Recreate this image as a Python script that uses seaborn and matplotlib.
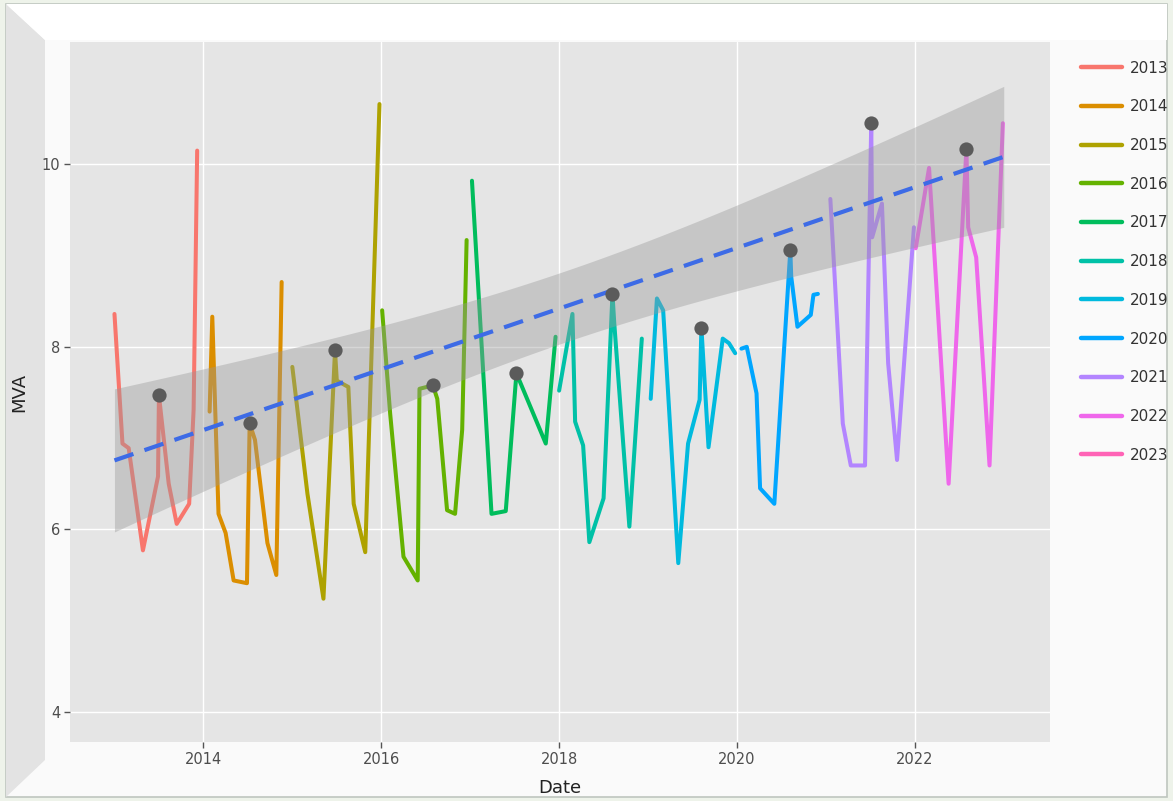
import numpy as np
import pandas as pd
import matplotlib
matplotlib.use("Agg")
import matplotlib.pyplot as plt
from matplotlib.patches import Polygon, Rectangle
import seaborn as sns

# monthly MVA readings (decimal years), grouped by year
dates = [
    2013.00, 2013.09, 2013.16, 2013.32, 2013.49, 2013.50, 2013.61, 2013.70, 2013.84, 2013.89, 2013.93,
    2014.07, 2014.10, 2014.17, 2014.25, 2014.34, 2014.49, 2014.52, 2014.58, 2014.72, 2014.82, 2014.88,
    2015.00, 2015.17, 2015.35, 2015.48, 2015.50, 2015.63, 2015.69, 2015.82, 2015.98,
    2016.01, 2016.10, 2016.25, 2016.41, 2016.43, 2016.51, 2016.58, 2016.63, 2016.74, 2016.83, 2016.91, 2016.96,
    2017.02, 2017.24, 2017.40, 2017.52, 2017.85, 2017.96,
    2018.00, 2018.15, 2018.18, 2018.27, 2018.34, 2018.50, 2018.60, 2018.62, 2018.79, 2018.93,
    2019.03, 2019.10, 2019.17, 2019.34, 2019.45, 2019.58, 2019.60, 2019.68, 2019.84, 2019.91, 2019.98,
    2020.05, 2020.11, 2020.22, 2020.26, 2020.42, 2020.60, 2020.61, 2020.68, 2020.83, 2020.86, 2020.91,
    2021.05, 2021.19, 2021.28, 2021.44, 2021.51, 2021.52, 2021.63, 2021.70, 2021.80, 2021.99,
    2022.01, 2022.16, 2022.38, 2022.58, 2022.60, 2022.69, 2022.84, 2022.99,
    2023.00,
]
mva = [
    8.36, 6.94, 6.89, 5.77, 6.58, 7.47, 6.50, 6.06, 6.28, 7.31, 10.15,
    7.29, 8.33, 6.17, 5.96, 5.44, 5.41, 7.16, 6.98, 5.85, 5.50, 8.71,
    7.78, 6.39, 5.24, 7.96, 7.63, 7.56, 6.28, 5.75, 10.66,
    8.40, 7.27, 5.70, 5.44, 7.54, 7.56, 7.58, 7.43, 6.21, 6.17, 7.09, 9.17,
    9.82, 6.17, 6.20, 7.71, 6.94, 8.11,
    7.52, 8.36, 7.18, 6.92, 5.86, 6.34, 8.58, 8.26, 6.03, 8.09,
    7.43, 8.53, 8.40, 5.63, 6.94, 7.42, 8.21, 6.90, 8.09, 8.04, 7.93,
    7.98, 8.00, 7.49, 6.45, 6.28, 9.06, 8.77, 8.22, 8.35, 8.57, 8.58,
    9.62, 7.16, 6.70, 6.70, 10.45, 9.20, 9.57, 7.82, 6.76, 9.31,
    9.08, 9.96, 6.50, 10.17, 9.31, 8.98, 6.70, 10.45,
    10.45,
]

# highlighted mid-year values, used for the trend
point_dates = [2013.50, 2014.52, 2015.48, 2016.58, 2017.52, 2018.60, 2019.60, 2020.60, 2021.51, 2022.58]
point_mva = [7.47, 7.16, 7.96, 7.58, 7.71, 8.58, 8.21, 9.06, 10.45, 10.17]

years = [str(y) for y in range(2013, 2024)]
colors = ["#F8766D", "#DB8E00", "#AEA200", "#64B200", "#00BD5C", "#00C1A7",
          "#00BADE", "#00A6FF", "#B385FF", "#EF67EB", "#FF63B6"]

W, H = 1173, 801

sns.set_theme(style="darkgrid", rc={
    "axes.facecolor": "#E5E5E5",
    "grid.color": "white",
    "grid.linewidth": 1.0,
    "xtick.bottom": True,
    "ytick.left": True,
})

df = pd.DataFrame({"Date": dates, "MVA": mva})
df["Year"] = [str(int(np.floor(d + 1e-6))) for d in dates]

fig = plt.figure(figsize=(W / 100, H / 100), dpi=100)
fig.patch.set_facecolor("#EEF3EA")


def fx(x):
    return x / W


def fy(y):
    return 1 - y / H


# screenshot frame with a bevel on the left
frame = [
    Rectangle((fx(6), fy(797)), fx(1167 - 6), 793 / H, facecolor="#FAFAFA",
              edgecolor="#BFC6BF", lw=1.2),
    Polygon([(fx(6), fy(4)), (fx(45), fy(40)), (fx(45), fy(760)), (fx(6), fy(797))],
            closed=True, facecolor="#E3E3E3", edgecolor="none"),
    Polygon([(fx(6), fy(4)), (fx(1167), fy(4)), (fx(1167), fy(40)), (fx(45), fy(40))],
            closed=True, facecolor="white", edgecolor="none"),
]
for p in frame:
    p.set_transform(fig.transFigure)
    p.set_zorder(-10)
    fig.patches.append(p)

ax = fig.add_axes([fx(70), fy(742), fx(1050 - 70), (742 - 42) / H])
ax.set_zorder(1)

sns.lineplot(data=df, x="Date", y="MVA", hue="Year", hue_order=years,
             palette=dict(zip(years, colors)), estimator=None, sort=False,
             lw=2.9, ax=ax, zorder=2)
handles, labels = ax.get_legend_handles_labels()
ax.get_legend().remove()

# linear trend with 95% confidence band, fitted on the highlighted points
px = np.array(point_dates)
py = np.array(point_mva)
slope, intercept = np.polyfit(px, py, 1)
resid = py - (slope * px + intercept)
s = np.sqrt(np.sum(resid ** 2) / (len(px) - 2))
grid = np.linspace(min(dates), max(dates), 200)
fit = slope * grid + intercept
se = s * np.sqrt(1 / len(px) + (grid - px.mean()) ** 2 / np.sum((px - px.mean()) ** 2))
t_crit = 2.306  # t(0.975, df=8)
ax.fill_between(grid, fit - t_crit * se, fit + t_crit * se, color="#999999", alpha=0.4,
                lw=0, zorder=3)
ax.plot(grid, fit, color="#3D6BE6", lw=3, dashes=(4.8, 2.8), zorder=4)

sns.scatterplot(x=point_dates, y=point_mva, color="#5B5B5B", s=105, linewidth=0,
                zorder=5, ax=ax, legend=False)

ax.set_xlim(2012.5, 2023.52)
ax.set_ylim(3.67, 11.34)
ax.set_xticks([2014, 2016, 2018, 2020, 2022])
ax.set_xticklabels(["2014", "2016", "2018", "2020", "2022"])
ax.set_yticks([4, 6, 8, 10])
ax.tick_params(length=4, width=1, color="#555555", labelsize=10.5, labelcolor="#4D4D4D", pad=3)
ax.set_xlabel("Date", fontsize=13, color="#222222", labelpad=9)
ax.set_ylabel("MVA", fontsize=13, color="#222222", labelpad=10)
for sp in ax.spines.values():
    sp.set_visible(False)

for h in handles:
    h.set_linewidth(3.2)
fig.legend(handles, labels, loc="upper left", bbox_to_anchor=(fx(1067), fy(47)),
           frameon=False, fontsize=11, labelspacing=1.55, handlelength=2.7,
           handletextpad=0.5, labelcolor="#333333")

fig.savefig("out.png", dpi=100, facecolor=fig.get_facecolor())
